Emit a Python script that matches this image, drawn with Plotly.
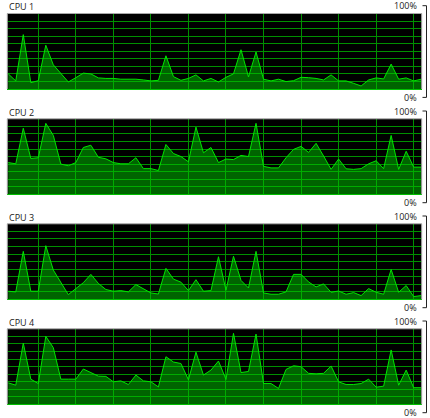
import plotly.graph_objects as go
from plotly.subplots import make_subplots

# ---------------- data ----------------
x_idx = list(range(56))

cpu1 = [20, 10.7, 72, 8.4, 11, 58, 32, 21, 9.3, 15, 21, 20, 14.7, 14, 14, 13,
        13.3, 13, 12, 10.7, 11.5, 44, 16.4, 11.5, 14, 18.7, 10.7, 14, 9.3, 15.5,
        20, 52, 16, 49, 13, 10.7, 13, 9.8, 11, 15.5, 15, 14, 12, 18.7, 10.7,
        10.7, 7.5, 4, 12, 14.7, 13.3, 33, 13, 14.7, 10.7, 13]

cpu2 = [42, 40.4, 87.5, 47.5, 48.4, 94, 78, 40, 37.8, 42, 62, 65, 49, 47, 42,
        40.4, 40.4, 48.4, 34, 34, 31.5, 66, 54, 50, 43, 89, 55, 62, 42, 46.7,
        46, 51.5, 50, 94, 37, 35, 35, 48.4, 59.5, 63.5, 55.5, 67.5, 50.7, 33,
        46.7, 33.8, 33, 34, 40.4, 44.4, 34, 78, 33, 57, 36, 36]

cpu3 = [10.7, 9.8, 63.5, 10.7, 10.7, 71, 38.7, 21.8, 6.2, 14.2, 22, 33, 21, 13,
        10.7, 11.5, 9.8, 19.5, 14.2, 8.4, 7, 41, 26.7, 22.7, 11.5, 26, 10.7,
        11.5, 56.4, 12, 57, 25, 15, 63.5, 8.4, 6.7, 6.7, 9.8, 33, 33, 23, 16.4,
        20.4, 9.3, 11, 6.7, 8.9, 4.9, 14.2, 9.3, 6.7, 39.5, 9.3, 18.2, 3.6, 4.9]

cpu4 = [28.4, 25.3, 81, 33.3, 27.5, 90, 75, 33.3, 33.3, 33.3, 46.7, 42, 37.3, 37,
        29.8, 31, 26.2, 38.7, 31, 29.8, 23, 63, 56, 54, 32.4, 69, 38.7, 45.3,
        57.3, 32.9, 94, 42, 43.5, 93, 27.5, 27.5, 21, 46.2, 51, 49.8, 41, 40.4,
        41, 50.7, 29.8, 26.2, 26.2, 27.5, 33.3, 22.7, 24, 72, 25.3, 45.3, 22, 22]

cpu_labels = ["CPU 1", "CPU 2", "CPU 3", "CPU 4"]
scale_labels = ["100%", "0%"]
series = [cpu1, cpu2, cpu3, cpu4]

# ---------------- layout geometry ----------------
W, H = 430, 418
left_px, right_px = 7.3, 421.7
tops = [13.5, 118.8, 223.8, 328.8]
ph = 75.5

GRID = "#009000"
LINE = "#00e400"
FILL = "rgba(0,200,0,0.5)"
FRAME = "#a8a8a8"
FONT = dict(family="Open Sans, Noto Sans, sans-serif", size=9, color="#1a1a1a")

fig = make_subplots(rows=4, cols=1)

for k, vals in enumerate(series):
    fig.add_trace(go.Scatter(
        x=x_idx, y=vals, mode="lines",
        line=dict(color=LINE, width=1),
        fill="tozeroy", fillcolor=FILL,
        hoverinfo="skip", showlegend=False),
        row=k + 1, col=1)

shapes = []
annotations = []
for k, top in enumerate(tops):
    n = "" if k == 0 else str(k + 1)
    bot = top + ph
    fig.layout["xaxis" + n].update(
        domain=[left_px / W, right_px / W], range=[-0.13, 55.07],
        showgrid=True, gridcolor=GRID, gridwidth=1, tick0=4, dtick=5,
        showticklabels=False, ticks="", zeroline=False, showline=False,
        fixedrange=True)
    fig.layout["yaxis" + n].update(
        domain=[1 - bot / H, 1 - top / H], range=[0, 100],
        showgrid=True, gridcolor=GRID, gridwidth=1, tick0=0, dtick=10,
        showticklabels=False, ticks="", zeroline=True, zerolinecolor="#00c000",
        zerolinewidth=1, showline=False, fixedrange=True)

    # frame (top, left, right)
    for (x0, y0, x1, y1) in [(left_px, top, right_px, top),
                             (left_px, top, left_px, bot),
                             (right_px, top, right_px, bot)]:
        shapes.append(dict(type="line", xref="paper", yref="paper",
                           x0=x0 / W, x1=x1 / W, y0=1 - y0 / H, y1=1 - y1 / H,
                           line=dict(color=FRAME, width=1)))

    # bracket on the right
    yt, yb = top - 7.8, bot + 8.4
    bx = 426.5
    for (x0, y0, x1, y1) in [(bx, yt, bx, yb),
                             (422.5, yt, bx, yt),
                             (422.5, yb, bx, yb)]:
        shapes.append(dict(type="line", xref="paper", yref="paper",
                           x0=x0 / W, x1=x1 / W, y0=1 - y0 / H, y1=1 - y1 / H,
                           line=dict(color="#222222", width=1)))

    annotations.append(dict(text=cpu_labels[k], xref="paper", yref="paper",
                            x=7 / W, y=1 - (top - 6.8) / H, xanchor="left",
                            yanchor="middle", showarrow=False, font=FONT))
    annotations.append(dict(text=scale_labels[0], xref="paper", yref="paper",
                            x=418.5 / W, y=1 - yt / H, xanchor="right",
                            yanchor="middle", showarrow=False, font=FONT))
    annotations.append(dict(text=scale_labels[1], xref="paper", yref="paper",
                            x=418.5 / W, y=1 - yb / H, xanchor="right",
                            yanchor="middle", showarrow=False, font=FONT))

fig.update_layout(
    width=W, height=H, margin=dict(l=0, r=0, t=0, b=0),
    plot_bgcolor="#000000", paper_bgcolor="#ffffff",
    shapes=shapes, annotations=annotations, showlegend=False)

fig.write_html("out.html", config={"displayModeBar": False},
               post_script="document.body.style.margin='0';document.body.style.overflow='hidden';")
